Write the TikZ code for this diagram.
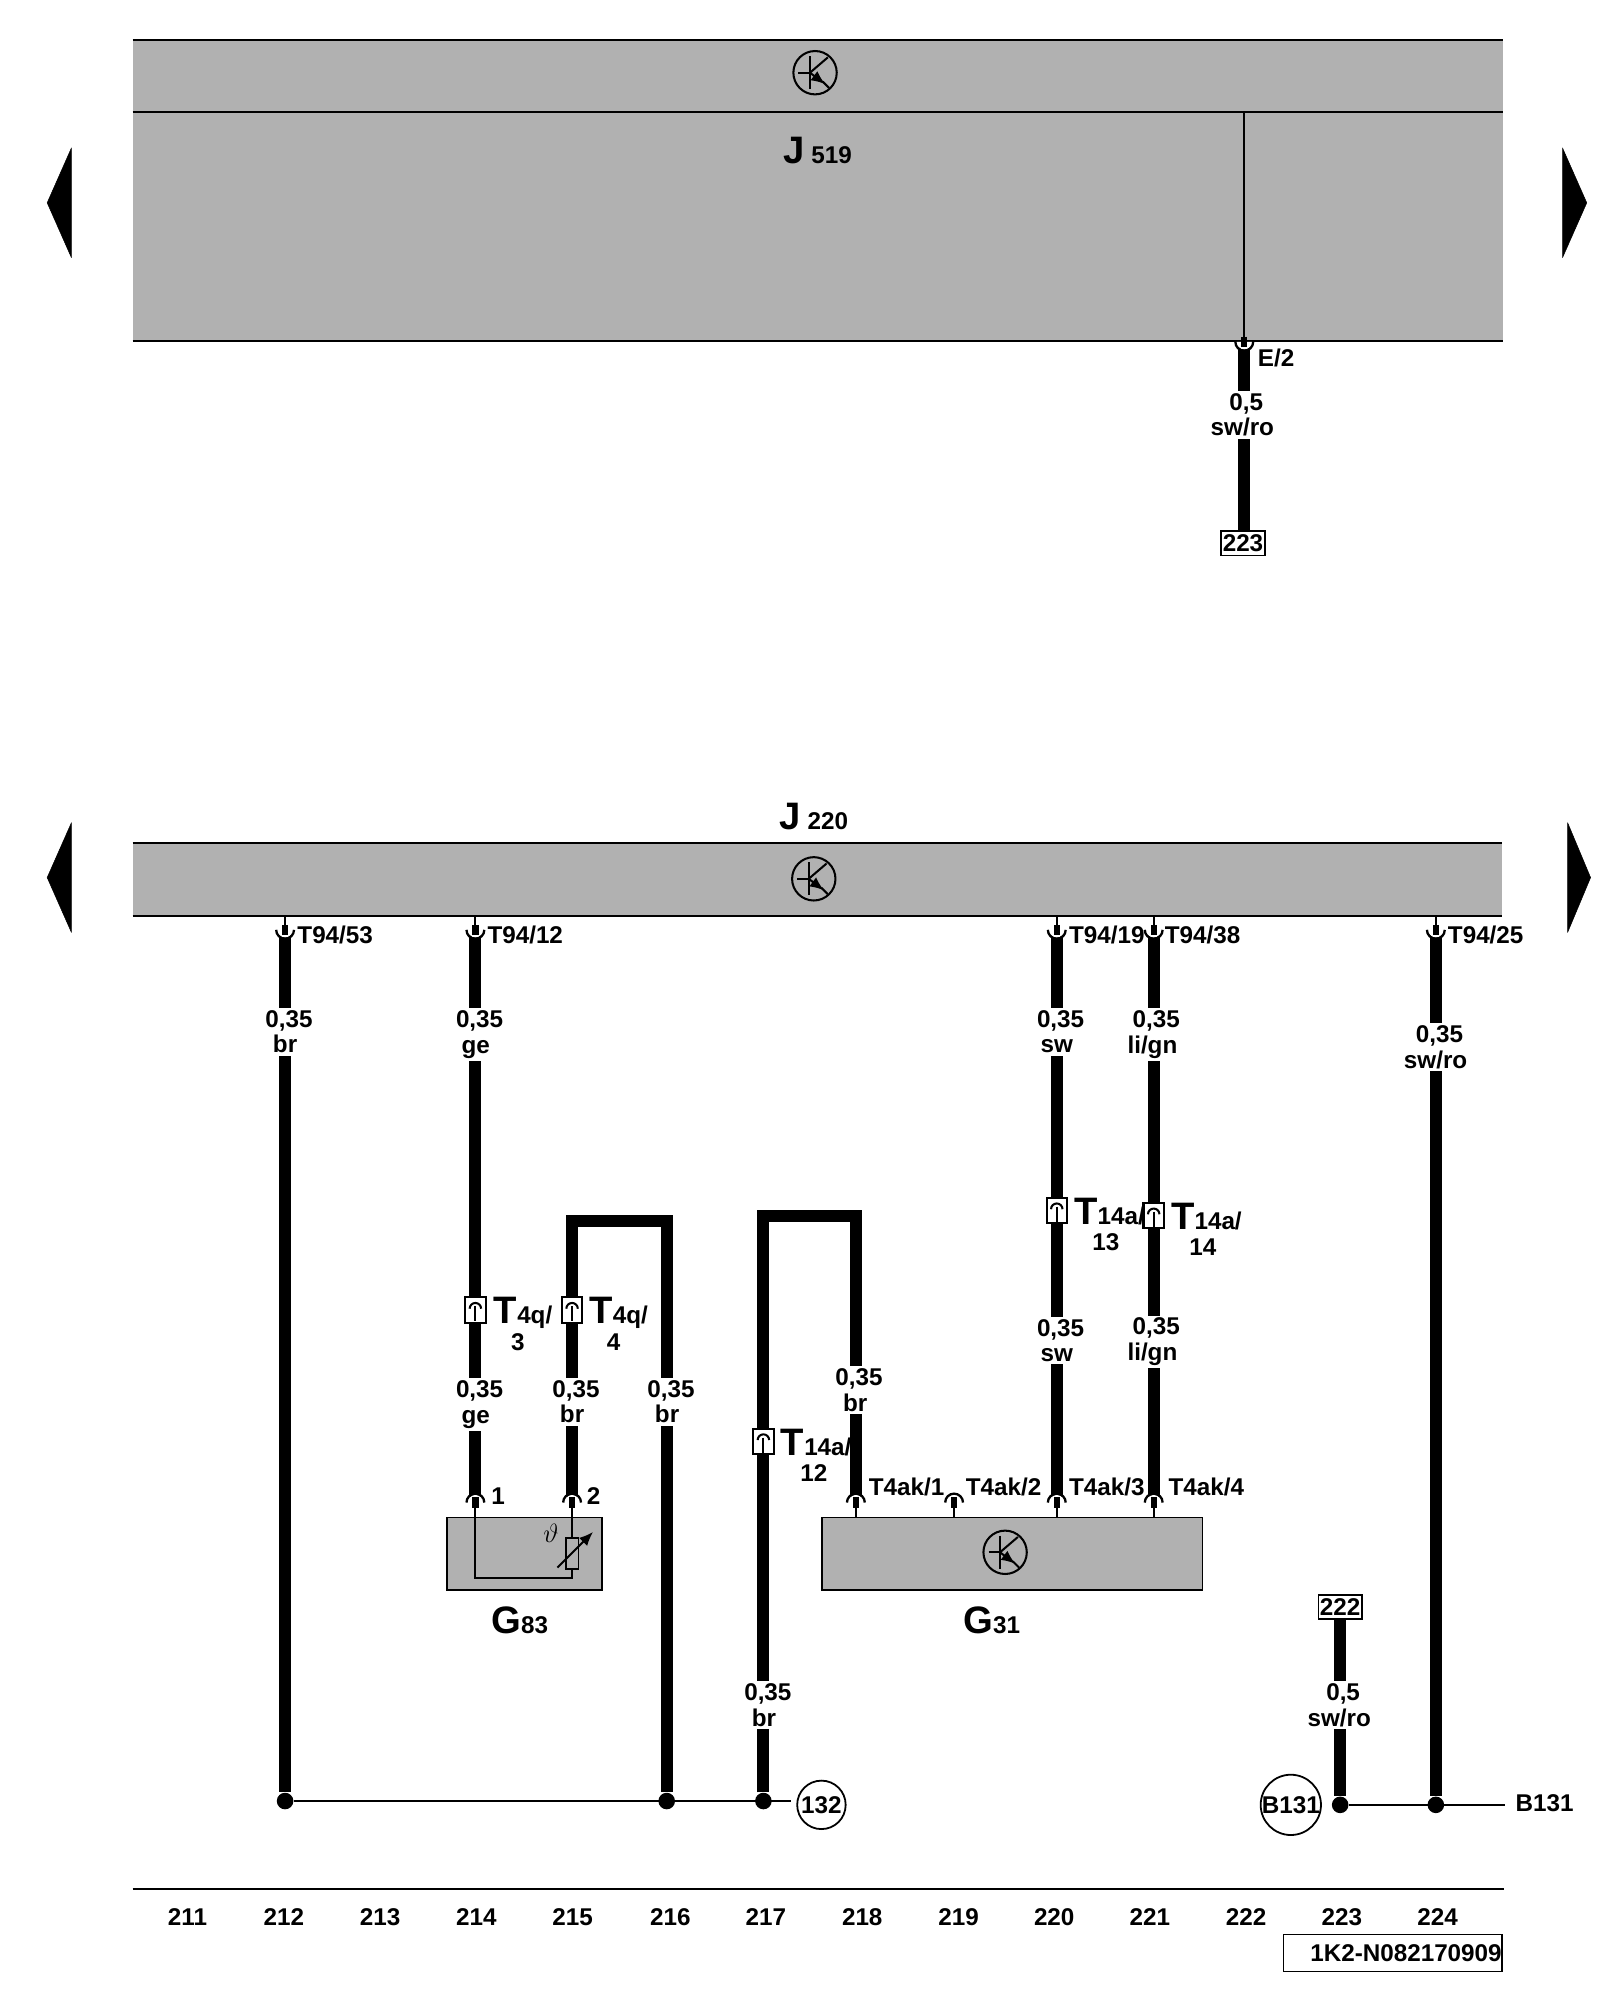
\documentclass[tikz,border=0pt]{standalone}
\usepackage{fontspec}
\setmainfont{Liberation Sans}
\usetikzlibrary{arrows.meta}

\definecolor{unitgray}{HTML}{B1B1B1}

\tikzset{
  wire/.style={line width=9.5pt},
  thinwire/.style={line width=1.6pt},
  txt/.style={font=\bfseries\fontsize{19}{20}\selectfont,inner sep=0pt},
  wirelabel/.style={txt,fill=white,align=center,inner xsep=1pt,inner ysep=2pt},
  bigtxt/.style={font=\bfseries\fontsize{30}{30}\selectfont,inner sep=0pt,anchor=base west},
  unit/.style={fill=unitgray,draw=black,line width=1.4pt,inner sep=0pt,anchor=north west},
  bar/.style={fill=unitgray,inner sep=0pt,anchor=north west},
  refbox/.style={txt,draw=black,fill=white,line width=1.4pt,minimum width=34pt,minimum height=19pt},
  conbox/.style={draw=black,fill=white,line width=1.6pt,inner sep=0pt,minimum width=16pt,minimum height=20pt},
  dot/.style={circle,fill=black,inner sep=0pt,minimum size=13pt},
  socketdown/.pic={
    \fill [white] (-6,-4) arc (180:0:6) -- cycle;
    \draw [line width=1.8pt] (-7,-4) arc (180:0:7);
    \draw [thinwire] (0,-15) -- (0,0);
    \draw [line width=5pt] (0,-8) -- (0,0);
  },
  socketup/.pic={
    \fill [white] (-6,4) arc (180:360:6) -- cycle;
    \draw [line width=1.8pt] (-7,4) arc (180:360:7);
    \draw [thinwire] (0,15) -- (0,0);
    \draw [line width=5pt] (0,8) -- (0,0);
  },
  conmark/.pic={
    \draw [line width=1.6pt] (-4.5,-1) arc (180:360:4.5);
    \draw [line width=1.6pt] (0,-3) -- (0,9);
  },
  ctrlmark/.pic={
    \draw [line width=1.6pt] (0,0) circle (17);
    \draw [line width=1.6pt] (-4,-13) -- (-4,13);
    \draw [line width=1.6pt] (-13,0) -- (-4,0);
    \draw [line width=1.6pt] (-4,0) -- (10,-12);
    \draw [line width=1.6pt,-{Latex[length=11pt,width=9pt]}] (-4,0) -- (8,9);
    \draw [line width=1.6pt] (6,7) -- (11,12);
  },
}

\begin{document}
\begin{tikzpicture}[x=1pt,y=-1pt]
\useasboundingbox (0,0) rectangle (1254.4,1568);

% Upper unit
\node (j519) [bar,minimum width=1074pt,minimum height=236pt] at (104,31) {};
\coordinate (j519m) at (104,88);
\draw [thinwire] (j519.north west) -- (j519.north east);
\draw [thinwire] (j519m) -- (j519m -| j519.east);
\draw [thinwire] (j519.south west) -- (j519.south east);
\pic at (639,57) {ctrlmark};
\node (j519t) [bigtxt] at (614,128) {J\fontsize{19}{20}\selectfont\ 519};

% Side arrows
\fill [line join=round,draw=black] (56,116) -- (37,159) -- (56,202) -- cycle;
\fill [line join=round,draw=black] (1225,116) -- (1244,159) -- (1225,202) -- cycle;
\fill [line join=round,draw=black] (56,645) -- (37,688) -- (56,731) -- cycle;
\fill [line join=round,draw=black] (1229,645) -- (1247,688) -- (1229,731) -- cycle;

% Lower unit
\node (j220) [bar,minimum width=1073pt,minimum height=57pt] at (104,661) {};
\draw [thinwire] (j220.north west) -- (j220.north east);
\draw [thinwire] (j220.south west) -- (j220.south east);
\pic at (638,689) {ctrlmark};
\node (j220t) [bigtxt] at (611,650) {J\fontsize{19}{20}\selectfont\ 220};

% Components
\node (g83) [unit,minimum width=121pt,minimum height=57pt] at (350,1189) {};
\node (g83t) [bigtxt] at (385,1281) {G\fontsize{19}{20}\selectfont 83};
\node (g31) [unit,minimum width=298pt,minimum height=57pt] at (644,1189) {};
\node (g31t) [bigtxt] at (755,1281) {G\fontsize{19}{20}\selectfont 31};
\pic at (788,1217) {ctrlmark};

% Ends of wires
\coordinate (e2) at (975.5,272);
\coordinate (w212a) at (223.5,733);
\coordinate (w214a) at (372.7,733);
\coordinate (w220a) at (828.5,733);
\coordinate (w221a) at (904.5,733);
\coordinate (w224a) at (1125.7,733);
\coordinate (w214b) at (372.7,1174);
\coordinate (w215b) at (448.5,1174);
\coordinate (w218b) at (671,1174);
\coordinate (w219b) at (748,1174);
\coordinate (w220b) at (828.5,1174);
\coordinate (w221b) at (904.5,1174);
\coordinate (w215t) at (448.5,957);
\coordinate (w216t) at (522.7,957);
\coordinate (w217t) at (598.5,953);
\coordinate (w218t) at (671,953);

% Ground points
\node (d212) [dot] at (223.5,1412) {};
\node (d216) [dot] at (522.7,1412) {};
\node (d217) [dot] at (598.5,1412) {};
\node (d223) [dot] at (1050.7,1415) {};
\node (d224) [dot] at (1125.7,1415) {};
\node (c132) [draw,circle,txt,line width=1.4pt,minimum size=38pt] at (644,1415) {132};
\node (cb131) [draw,circle,txt,line width=1.4pt,minimum size=47pt] at (1012,1415) {B131};
\coordinate (l132) at (620,1412);
\coordinate (r131) at (1180,1415);
\node (r223) [refbox] at (974.5,426) {223};
\node (r222) [refbox] at (1050.7,1260) {222};

% Thin lines
\draw [thinwire] (j519m -| e2) -- (e2);
\draw [thinwire] (d212) -- (l132);
\draw [thinwire] (d223) -- (r131);
\draw [thinwire] (w214b) -- (372.7,1237) -- (448.5,1237) -- (w215b);

% Thick wires
\draw [wire] (e2) -- (r223.north -| e2);
\draw [wire] (w212a) -- (d212);
\draw [wire] (w214a) -- (w214b);
\draw [wire] (w215b) -- (w215t) -- (w216t) -- (d216);
\draw [wire] (d217) -- (w217t) -- (w218t) -- (w218b);
\draw [wire] (w220a) -- (w220b);
\draw [wire] (w221a) -- (w221b);
\draw [wire] (w224a) -- (d224);
\draw [wire] (r222.south) -- (d223);

% Sockets
\foreach \name in {e2,w212a,w214a,w220a,w221a,w224a}
  \pic at (\name) {socketdown};
\foreach \name in {w214b,w215b,w218b,w219b,w220b,w221b}
  \pic at (\name) {socketup};

% Sensor symbol
\node (res) [draw=black,fill=unitgray,line width=1.4pt,inner sep=0pt,minimum width=10pt,minimum height=24pt] at (448.5,1218) {};
\draw [line width=1.6pt,-{Latex[length=11pt,width=9pt]}] (437,1229) -- (465,1201);
\node (theta) [font=\fontsize{20}{20}\selectfont,inner sep=0pt] at (432,1202) {$\vartheta$};

% Inline connectors
\node (t4q3) [conbox] at (372.7,1027) {};
\node (t4q4) [conbox] at (448.5,1027) {};
\node (t14a12) [conbox] at (598.5,1130) {};
\node (t14a13) [conbox] at (828.5,949) {};
\node (t14a14) [conbox] at (904.5,953) {};
\foreach \name in {t4q3,t4q4,t14a12,t14a13,t14a14}
  \pic at (\name) {conmark};

\node (t4q3a) [bigtxt] at (387,1038) {T\fontsize{19}{20}\selectfont 4q/};
\node (t4q3b) [txt] at (406,1052) {3};
\node (t4q4a) [bigtxt] at (462,1038) {T\fontsize{19}{20}\selectfont 4q/};
\node (t4q4b) [txt] at (481,1052) {4};
\node (t14a12a) [bigtxt] at (612,1141) {T\fontsize{19}{20}\selectfont 14a/};
\node (t14a12b) [txt] at (638,1155) {12};
\node (t14a13a) [bigtxt] at (842,960) {T\fontsize{19}{20}\selectfont 14a/};
\node (t14a13b) [txt] at (867,974) {13};
\node (t14a14a) [bigtxt] at (918,964) {T\fontsize{19}{20}\selectfont 14a/};
\node (t14a14b) [txt] at (943,978) {14};

% Wire labels
\node (l1) [wirelabel] at (974,325) {\hspace*{6pt}0,5\\sw/ro};
\node (l2) [wirelabel] at (223.5,809) {\hspace*{6pt}0,35\\br};
\node (l3) [wirelabel] at (373,811) {\hspace*{6pt}0,35\\ge};
\node (l4) [wirelabel] at (828.5,809) {\hspace*{6pt}0,35\\sw};
\node (l5) [wirelabel] at (903.5,811) {\hspace*{6pt}0,35\\li/gn};
\node (l6) [wirelabel] at (1125.5,821) {\hspace*{6pt}0,35\\sw/ro};
\node (l7) [wirelabel] at (373,1101) {\hspace*{6pt}0,35\\ge};
\node (l8) [wirelabel] at (448.5,1099) {\hspace*{6pt}0,35\\br};
\node (l9) [wirelabel] at (523,1099) {\hspace*{6pt}0,35\\br};
\node (l10) [wirelabel] at (670.5,1090) {\hspace*{6pt}0,35\\br};
\node (l11) [wirelabel] at (828.5,1051) {\hspace*{6pt}0,35\\sw};
\node (l12) [wirelabel] at (903.5,1052) {\hspace*{6pt}0,35\\li/gn};
\node (l13) [wirelabel] at (599,1337) {\hspace*{6pt}0,35\\br};
\node (l14) [wirelabel] at (1050,1337) {\hspace*{6pt}0,5\\sw/ro};

% Pin names
\foreach \name/\xpos/\ypos/\pintxt in {
  p1/233/733/T94\slash 53, p2/382/733/T94\slash 12, p3/838/733/T94\slash 19,
  p4/913/733/T94\slash 38, p5/1135/733/T94\slash 25, p6/681/1166/T4ak\slash 1,
  p7/757/1166/T4ak\slash 2, p8/838/1166/T4ak\slash 3, p9/916/1166/T4ak\slash 4,
  p10/986/281/E\slash 2, p11/385/1173/1, p12/460/1173/2, p13/1188/1414/B131}
  \node (\name) [txt,anchor=west] at (\xpos,\ypos) {\pintxt};

% Foot of the page
\coordinate (footl) at (104,1481);
\coordinate (footr) at (1179,1481);
\draw [thinwire] (footl) -- (footr);
\foreach \num/\xpos in {211/147,212/222.5,213/298,214/373.5,215/449,216/525.5,217/600.5,
  218/676,219/751.5,220/826.5,221/901.5,222/977,223/1052,224/1127}
  \node (col\num) [txt] at (\xpos,1503) {\num};
\node (docnr) [txt,draw=black,line width=1.4pt,minimum width=171pt,minimum height=29pt,anchor=north east,align=right,text width=171pt] at (1178,1516) {1K2-N082170909};
\end{tikzpicture}
\end{document}
